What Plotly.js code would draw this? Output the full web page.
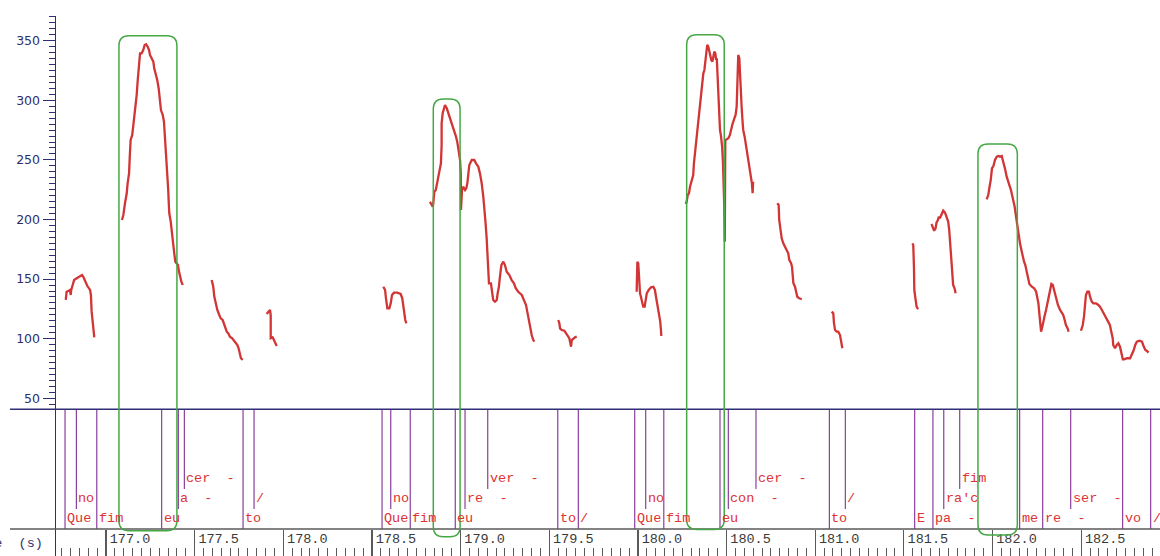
<!DOCTYPE html>
<html>
<head>
<meta charset="utf-8">
<script src="https://cdn.plot.ly/plotly-3.0.1.min.js"></script>
<style>
html,body{margin:0;padding:0;background:#fff;overflow:hidden}
#chart{width:1160px;height:556px}
</style>
</head>
<body>
<div id="chart"></div>
<script>
// ---------- pitch contour segments (time in s, F0 in Hz) ----------
const f0T_A = [176.773,176.778,176.790,176.797,176.801,176.804,176.812,176.820,176.835,176.853,176.865,176.872,176.882,176.895,176.910,176.915,176.919,176.925,176.928,176.934];
const f0Hz_A = [132.5,139.4,140.3,140.9,136.7,140.9,145.1,149.2,150.7,152.6,153.4,152.0,147.8,144.2,140.9,136.7,122.7,115.7,108.7,101.2];

const f0T_B = [177.090,177.098,177.107,177.117,177.122,177.130,177.135,177.139,177.148,177.154,177.160,177.168,177.173,177.179,177.186,177.192,177.201,177.210,177.218,177.226,177.235,177.243,177.248,177.258,177.267,177.272,177.282,177.289,177.297,177.301,177.305,177.310,177.320,177.327,177.331,177.335,177.340,177.346,177.351,177.354,177.357,177.365,177.371,177.376,177.380,177.385,177.391,177.399,177.406,177.410,177.417,177.425,177.433];
const f0Hz_B = [199.6,203.8,213.6,222.0,230.4,238.7,255.5,266.7,270.9,277.8,286.2,294.6,304.4,317.0,329.6,339.4,339.4,342.2,346.4,347.0,344.9,342.2,338.0,335.2,332.4,326.8,321.2,317.0,310.1,303.0,294.6,291.8,287.7,282.0,272.3,263.9,252.7,235.9,224.7,213.6,205.2,198.2,191.2,187.0,178.6,171.6,164.6,163.3,161.8,157.6,152.0,147.8,145.1];

const f0T_C = [177.596,177.605,177.611,177.619,177.628,177.639,177.647,177.658,177.666,177.673,177.681,177.690,177.699,177.712,177.728,177.741,177.748,177.756,177.761,177.771];
const f0Hz_C = [149.2,143.6,135.2,128.3,124.1,119.9,117.1,115.7,111.5,108.7,105.9,104.5,101.7,100.4,97.5,94.7,92.0,87.8,83.6,82.2];

const f0T_D = [177.906,177.918,177.925,177.929,177.929,177.929,177.940,177.948,177.955,177.963];
const f0Hz_D = [120.7,122.7,124.1,119.9,104.5,100.4,101.2,98.9,96.2,93.9];

const f0T_E = [178.564,178.574,178.579,178.587,178.598,178.606,178.613,178.624,178.643,178.662,178.671,178.677,178.682,178.688,178.694];
const f0Hz_E = [143.6,140.9,133.9,125.5,125.5,129.7,136.7,138.6,138.6,137.5,133.9,126.9,121.3,115.7,112.9];

const f0T_F = [178.827,178.837,178.843,178.846,178.852,178.860,178.865,178.871,178.878,178.884,
  178.889,178.893,178.893,178.899,178.906,178.912,178.922,178.931,178.940,178.950,
  178.959,178.964,178.974,178.981,178.987,178.993,178.997,179.001,179.002,179.008,
  179.015,179.025,179.032,179.038,179.043,179.049,179.063,179.077,179.087,179.100,
  179.109,179.119,179.128,179.136,179.141,179.147,179.150,179.154,179.156,179.160,
  179.171,179.179,179.184,179.194,179.204,179.209,179.216,179.222,179.230,179.241,
  179.250,179.260,179.275,179.288,179.301,179.311,179.325,179.345,179.358,179.369,
  179.376,179.384,179.391,179.401,179.410,179.416];
const f0Hz_F = [214.9,212.2,210.7,213.6,223.3,224.7,227.5,233.1,238.7,242.9,
  247.1,262.5,280.7,289.1,293.3,296.0,293.3,289.1,285.7,282.0,
  277.8,273.6,269.5,265.3,259.7,254.1,249.9,238.7,208.0,224.7,
  227.5,224.7,226.2,230.4,241.5,245.7,249.9,249.9,247.1,244.3,
  238.7,230.4,219.1,208.0,196.8,184.2,174.4,163.3,152.0,146.5,
  146.5,136.7,132.5,131.1,132.5,138.1,143.6,152.0,161.8,164.6,
  161.8,156.2,153.4,149.2,146.5,142.3,139.4,136.7,132.5,128.3,
  122.7,115.7,110.1,103.1,98.9,97.5];

const f0T_G = [179.551,179.557,179.561,179.570,179.585,179.594,179.602,179.613,179.619,179.623,179.627,179.636,179.645,179.655];
const f0Hz_G = [115.7,112.9,108.7,107.3,106.7,104.5,102.3,100.4,96.2,93.3,98.9,100.4,101.2,101.7];

const f0T_H = [179.993,179.997,180.002,180.006,180.012,180.017,180.025,180.030,180.038,180.042,180.050,180.061,180.074,180.087,180.096,180.102,180.109,180.115,180.121,180.126,180.130,180.132];
const f0Hz_H = [139.4,164.6,163.3,152.0,138.1,135.2,131.1,126.9,126.9,131.1,138.1,140.9,143.1,143.6,140.9,135.2,129.7,124.1,118.5,114.3,107.3,102.3];

const f0T_I = [180.270,180.275,180.281,180.288,180.294,180.299,180.307,180.312,180.316,180.322,
  180.327,180.335,180.340,180.346,180.352,180.357,180.363,180.369,180.375,180.380,
  180.388,180.391,180.397,180.403,180.409,180.414,180.420,180.426,180.431,180.437,
  180.441,180.445,180.448,180.454,180.458,180.463,180.469,180.475,180.480,180.484,
  180.487,180.490,180.493,180.501,180.510,180.519,180.525,180.532,180.544,180.551,
  180.557,180.561,180.563,180.566,180.572,180.576,180.580,180.585,180.591,180.594,
  180.602,180.608,180.613,180.619,180.625,180.630,180.634,180.639,180.643,180.647,
  180.650];
const f0Hz_I = [213.0,214.9,220.5,222.0,227.5,230.4,233.1,237.3,247.1,255.5,
  266.7,276.5,282.0,289.1,297.5,303.0,311.4,322.6,325.4,333.8,
  343.6,346.4,344.9,340.7,336.6,333.8,332.4,336.6,340.7,339.4,
  333.8,335.2,322.6,303.0,283.5,275.1,269.5,261.1,247.1,233.1,
  210.7,181.4,266.7,267.3,268.1,270.9,275.1,279.3,284.9,287.7,
  294.6,308.6,328.2,338.0,335.2,317.0,303.0,294.6,280.7,275.1,
  269.5,263.9,258.3,254.1,249.9,245.7,241.5,235.9,230.4,222.0,
  231.7];

const f0T_J = [180.786,180.794,180.797,180.805,180.811,180.820,180.830,180.839,180.848,180.854,180.864,180.869,180.873,180.877,180.886,180.892,180.899,180.910,180.924];
const f0Hz_J = [213.6,212.2,199.6,191.2,184.2,180.0,177.2,174.4,171.6,166.0,163.3,160.4,152.0,146.5,143.6,138.1,135.2,133.9,133.1];

const f0T_K = [181.093,181.102,181.106,181.112,181.121,181.130,181.140,181.145,181.153];
const f0Hz_K = [122.7,121.3,112.9,107.3,105.9,105.9,103.1,97.5,92.0];

const f0T_L = [181.548,181.553,181.557,181.559,181.564,181.568,181.572,181.580];
const f0Hz_L = [180.0,178.6,160.4,140.9,135.2,129.7,126.9,124.7];

const f0T_M = [181.656,181.665,181.671,181.679,181.684,181.692,181.697,181.703,181.713,181.722,181.732,181.741,181.750,181.756,181.760,181.764,181.767,181.773,181.777,181.778,181.786,181.792];
const f0Hz_M = [196.2,192.6,190.6,192.6,197.3,199.6,202.3,201.0,204.6,207.4,205.7,202.3,198.2,191.2,182.8,177.2,170.2,161.8,154.9,145.1,142.3,138.1];

const f0T_N = [181.967,181.976,181.982,181.990,181.997,182.005,182.014,182.024,182.033,182.042,
  182.052,182.061,182.070,182.080,182.087,182.095,182.103,182.110,182.117,182.125,
  182.133,182.140,182.148,182.155,182.163,182.171,182.178,182.185,182.193,182.201,
  182.208,182.222,182.235,182.246,182.253,182.259,182.264,182.270,182.274,182.281,
  182.287,182.295,182.302,182.309,182.317,182.324,182.332,182.340,182.347,182.354,
  182.362,182.369,182.381,182.392,182.399,182.407,182.414,182.424,182.429];
const f0Hz_N = [216.9,220.5,226.2,233.1,242.9,244.9,249.9,252.7,253.3,252.7,
  253.3,248.5,242.9,235.9,231.7,228.9,225.3,220.5,216.4,210.7,
  202.3,194.0,185.6,180.0,174.4,167.5,164.6,161.8,156.2,149.2,
  145.9,143.6,142.3,139.4,135.2,129.7,121.3,110.1,105.9,110.1,
  115.7,119.9,124.1,129.7,136.7,142.3,145.9,145.1,140.9,136.7,
  132.5,128.3,124.1,121.3,119.9,115.7,111.5,108.7,105.9];

const f0T_O = [182.499,182.509,182.516,182.522,182.527,182.535,182.544,182.550,182.560,182.569,
  182.584,182.597,182.606,182.617,182.625,182.634,182.644,182.653,182.662,182.670,
  182.678,182.681,182.691,182.701,182.710,182.719,182.727,182.735,182.743,182.758,
  182.776,182.786,182.795,182.805,182.814,182.829,182.843,182.852,182.862,182.871,182.880];
const f0Hz_O = [106.7,111.5,118.5,129.7,136.7,139.4,139.4,135.2,131.1,129.7,
  129.7,128.3,126.9,124.1,121.8,119.0,116.3,114.3,111.5,105.9,
  100.4,94.7,92.0,94.7,96.2,93.3,87.8,82.7,82.7,83.6,
  83.6,86.3,89.9,94.7,97.5,98.3,97.5,93.9,90.5,89.7,88.3];

// ---------- annotation tiers (boundary times and labels) ----------
const tier1Time = [176.769,176.948,177.314,177.773,178.557,178.716,178.970,179.548,179.664,179.982,180.146,180.463,181.080,181.561,181.664,182.153,182.283,182.734,182.892];
const tier1Text = ['Que','fim','eu','to','Que','fim','eu','to','/','Que','fim','eu','to','E','pa  -','me','re  -','vo','/'];
const tier2Time = [176.833,177.408,177.835,178.606,179.025,180.044,180.510,181.170,181.725,182.441];
const tier2Text = ['no','a  -','/','no','re  -','no','con  -','/',"ra'c",'ser  -'];
const tier3Time = [177.442,179.153,180.666,181.815];
const tier3Text = ['cer  -','ver  -','cer  -','fim'];

// ---------- highlighted regions (time span, F0 top, bottom below tiers) ----------
const boxStart  = [177.073, 178.846, 180.275, 181.918];
const boxEnd    = [177.400, 178.997, 180.487, 182.140];
const boxTop    = [354.2, 301.1, 355.0, 263.3];
const boxBottom = [-61.0, -66.0, -60.0, -64.6];

// ---------- ticks ----------
const xTickVals = [177.0,177.5,178.0,178.5,179.0,179.5,180.0,180.5,181.0,181.5,182.0,182.5];
const xTickText = ['177.0','177.5','178.0','178.5','179.0','179.5','180.0','180.5','181.0','181.5','182.0','182.5'];
const yTickVals = [50,100,150,200,250,300,350];
const xAxisTitle = 'Time  (s)';

// ---------- layout constants ----------
const W = 1160, H = 556, ML = 56, MT = 16;
const T_MIN = 176.718, T_MAX = 182.9447;
const HZ_MIN = -82.25, HZ_MAX = 370.69;
const SEP_HZ = 40.8;                 // line separating pitch panel from tiers
const AXIS_HZ = -59.6;               // level of the time axis line
const TIER_END = [-59.6, -42.8, -26.1];
const LABEL_UP = 9.2;
const plotW = W - ML, plotH = H - MT;
const PX_PER_S = plotW / (T_MAX - T_MIN);
const PX_PER_HZ = plotH / (HZ_MAX - HZ_MIN);

const RED = '#d23535', PURPLE = '#8a3f9c', NAVY = '#2f2f78', GREEN = '#45a845', GREY = '#5a5a5a';
const MONO = 'Liberation Mono, DejaVu Sans Mono, monospace';

// pitch trace
const segsT = [f0T_A,f0T_B,f0T_C,f0T_D,f0T_E,f0T_F,f0T_G,f0T_H,f0T_I,f0T_J,f0T_K,f0T_L,f0T_M,f0T_N,f0T_O];
const segsH = [f0Hz_A,f0Hz_B,f0Hz_C,f0Hz_D,f0Hz_E,f0Hz_F,f0Hz_G,f0Hz_H,f0Hz_I,f0Hz_J,f0Hz_K,f0Hz_L,f0Hz_M,f0Hz_N,f0Hz_O];
let px = [], py = [];
segsT.forEach((s, i) => { px = px.concat(s, [null]); py = py.concat(segsH[i], [null]); });

// tier boundary lines
const tiers = [[tier1Time, tier1Text], [tier2Time, tier2Text], [tier3Time, tier3Text]];
let lx = [], ly = [];
const annotations = [];
tiers.forEach(([times, texts], k) => {
  times.forEach((t, i) => {
    lx.push(t, t, null); ly.push(SEP_HZ, TIER_END[k], null);
    annotations.push({
      x: t, y: TIER_END[k] + LABEL_UP, xref: 'x', yref: 'y',
      text: texts[i].replace(/ /g, '\u00a0'), showarrow: false,
      xanchor: 'left', yanchor: 'middle', xshift: 0,
      font: {family: MONO, size: 13.5, color: '#dd3333'}
    });
  });
});
annotations.push({
  x: (45 - ML) / plotW, xref: 'paper', y: -71.5, yref: 'y',
  text: xAxisTitle.replace(/ /g, '\u00a0'), showarrow: false, xanchor: 'right', yanchor: 'middle',
  font: {family: MONO, size: 13.5, color: '#33336b'}
});

// rounded highlight boxes
const RX = 10 / PX_PER_S, RY = 10 / PX_PER_HZ;
function roundedBox(x0, x1, y0, y1) {
  return `M${x0+RX},${y1} L${x1-RX},${y1} Q${x1},${y1} ${x1},${y1-RY} L${x1},${y0+RY} Q${x1},${y0} ${x1-RX},${y0} ` +
         `L${x0+RX},${y0} Q${x0},${y0} ${x0},${y0+RY} L${x0},${y1-RY} Q${x0},${y1} ${x0+RX},${y1} Z`;
}
const shapes = [];
shapes.push({type: 'line', xref: 'paper', yref: 'y', x0: (10 - ML) / plotW, x1: 1, y0: SEP_HZ, y1: SEP_HZ,
  line: {color: NAVY, width: 1.5}});
shapes.push({type: 'line', xref: 'paper', yref: 'y', x0: (10 - ML) / plotW, x1: 1, y0: AXIS_HZ, y1: AXIS_HZ,
  line: {color: GREY, width: 1.6}});
boxStart.forEach((s, i) => {
  shapes.push({type: 'path', xref: 'x', yref: 'y', path: roundedBox(s, boxEnd[i], boxBottom[i], boxTop[i]),
    line: {color: GREEN, width: 1.5}, fillcolor: 'rgba(0,0,0,0)', layer: 'above'});
});

const minorY = [];
for (let v = 45; v <= 370; v += 5) minorY.push(v);

const data = [
  {x: lx, y: ly, mode: 'lines', line: {color: PURPLE, width: 1.2}, hoverinfo: 'skip', showlegend: false},
  {x: px, y: py, mode: 'lines', line: {color: RED, width: 2.3}, connectgaps: false, hoverinfo: 'skip', showlegend: false},
  {x: [177], y: [null], xaxis: 'x2', mode: 'markers', showlegend: false, hoverinfo: 'skip'}
];

const layout = {
  width: W, height: H,
  margin: {l: ML, r: 0, t: MT, b: 0, pad: 0},
  paper_bgcolor: '#fff', plot_bgcolor: '#fff',
  showlegend: false,
  xaxis: {
    range: [T_MIN, T_MAX], anchor: 'free', position: (AXIS_HZ - HZ_MIN) / (HZ_MAX - HZ_MIN),
    showline: false, showgrid: false, zeroline: false,
    tickmode: 'array', tickvals: xTickVals, ticktext: xTickText,
    ticks: 'outside', ticklen: 27, tickwidth: 1.2, tickcolor: GREY,
    ticklabelshift: 24, ticklabelstandoff: -30,
    tickfont: {family: MONO, size: 13.5, color: '#3a3a3a'}
  },
  xaxis2: {
    range: [T_MIN, T_MAX], overlaying: 'x', anchor: 'free', position: 0, side: 'bottom',
    showline: false, showgrid: false, zeroline: false, showticklabels: false,
    tick0: 177, dtick: 0.05, ticks: 'inside', ticklen: 8, tickwidth: 1, tickcolor: GREY
  },
  yaxis: {
    range: [HZ_MIN, HZ_MAX], showgrid: false, zeroline: false,
    showline: true, linecolor: NAVY, linewidth: 1.5,
    tickmode: 'array', tickvals: yTickVals,
    ticks: 'outside', ticklen: 12, tickwidth: 1.2, tickcolor: NAVY,
    tickfont: {family: 'DejaVu Sans, Verdana, sans-serif', size: 12.5, color: '#2e2e6e'},
    minor: {tickmode: 'array', tickvals: minorY, ticks: 'outside', ticklen: 6, tickwidth: 1, tickcolor: NAVY, showgrid: false}
  },
  shapes: shapes,
  annotations: annotations
};

Plotly.newPlot('chart', data, layout, {staticPlot: true, displayModeBar: false});
</script>
</body>
</html>
